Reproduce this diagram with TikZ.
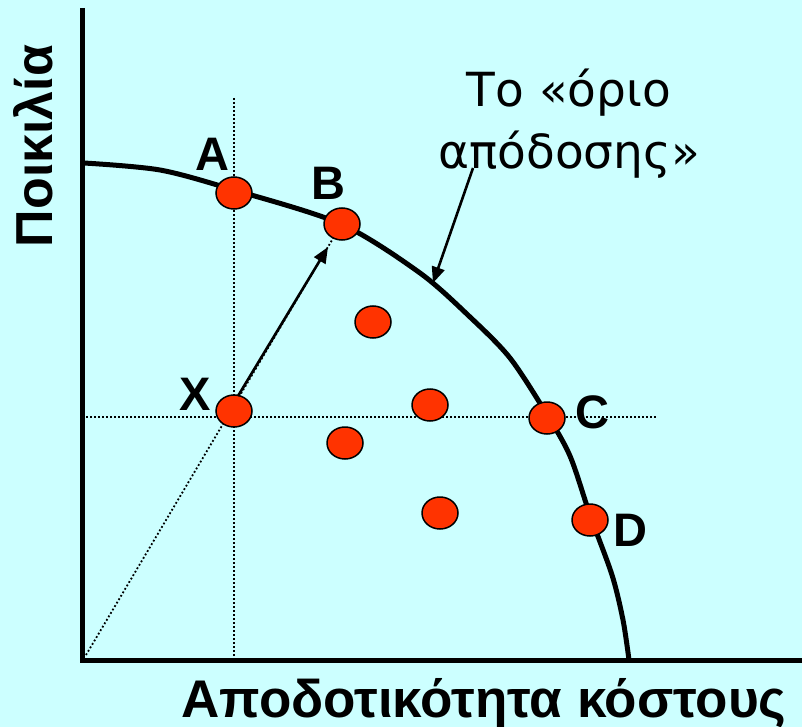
\documentclass[tikz,border=0pt]{standalone}
\usepackage{fontspec}
\setmainfont{Liberation Sans}
\newfontfamily\labelfont{DejaVu Sans}
\usetikzlibrary{arrows.meta,shapes.geometric}
\definecolor{bgcyan}{HTML}{CCFFFF}
\definecolor{dotred}{HTML}{FF3300}
\begin{document}
\begin{tikzpicture}[x=1pt,y=-1pt,
  axis/.style={line width=5pt},
  frontier/.style={line width=5pt},
  guide/.style={line width=1.8pt,dash pattern=on 1.8pt off 2.2pt},
  pt/.style={ellipse,draw=black,line width=1.5pt,fill=dotred,minimum width=36pt,minimum height=32pt,inner sep=0pt},
  lbl/.style={font=\fontsize{47}{50}\selectfont\bfseries,inner sep=0pt},
  arr/.style={line width=2.6pt,-{Triangle[length=16pt,width=13pt]}}]
\useasboundingbox[fill=bgcyan] (0,0) rectangle (802,727);
% axes
\coordinate (top) at (82,8);
\coordinate (orig) at (82,660);
\coordinate (xend) at (802,660);
\draw[axis] (top) -- (orig) -- (xend);
% guides
\coordinate (vt) at (234,98);
\coordinate (vb) at (234,660);
\coordinate (hl) at (82,417);
\coordinate (hr) at (657,417);
\coordinate (o2) at (86,655);
\coordinate (bt) at (338,230);
\draw[guide] (vt) -- (vb);
\draw[guide] (hl) -- (hr);
\draw[guide] (o2) -- (bt);
% frontier
\draw[frontier] plot[smooth,tension=0.5] coordinates {(84,163) (160,170) (234,190) (341,224) (420,273) (470,317) (510,358) (546,413) (570,456) (590,515) (612,575) (623,620) (629,660)};
% points
\node[pt] (A) at (234,193) {};
\node[pt] (B) at (342,224) {};
\node[pt] (X) at (234,411) {};
\node[pt] (C) at (547,418) {};
\node[pt] (D) at (590,520) {};
\node[pt] (p1) at (373,322) {};
\node[pt] (p2) at (430,405) {};
\node[pt] (p3) at (345,443) {};
\node[pt] (p4) at (440,513) {};
% labels
\node[lbl] (lA) at (212,154) {A};
\node[lbl] (lB) at (328,183) {B};
\node[lbl] (lX) at (195,394) {X};
\node[lbl] (lC) at (592,412) {C};
\node[lbl] (lD) at (630,530) {D};
% arrow X to B
\coordinate (as) at (238,396);
\coordinate (ae) at (328,247);
\draw[arr] (as) -- (ae);
% frontier label
\node[font=\labelfont\fontsize{47}{62}\selectfont,align=center,anchor=center] (ft) at (569,124) {Το «όριο\\απόδοσης»};
\coordinate (ls) at (473,168);
\coordinate (le) at (433,283);
\draw[arr] (ls) -- (le);
% axis titles
\node[font=\fontsize{53}{60}\selectfont\bfseries,anchor=base] (xt) at (484,717) {Αποδοτικότητα κόστους};
\node[font=\fontsize{52}{60}\selectfont\bfseries,anchor=base,rotate=90] (yt) at (52,146) {Ποικιλία};
\end{tikzpicture}
\end{document}
